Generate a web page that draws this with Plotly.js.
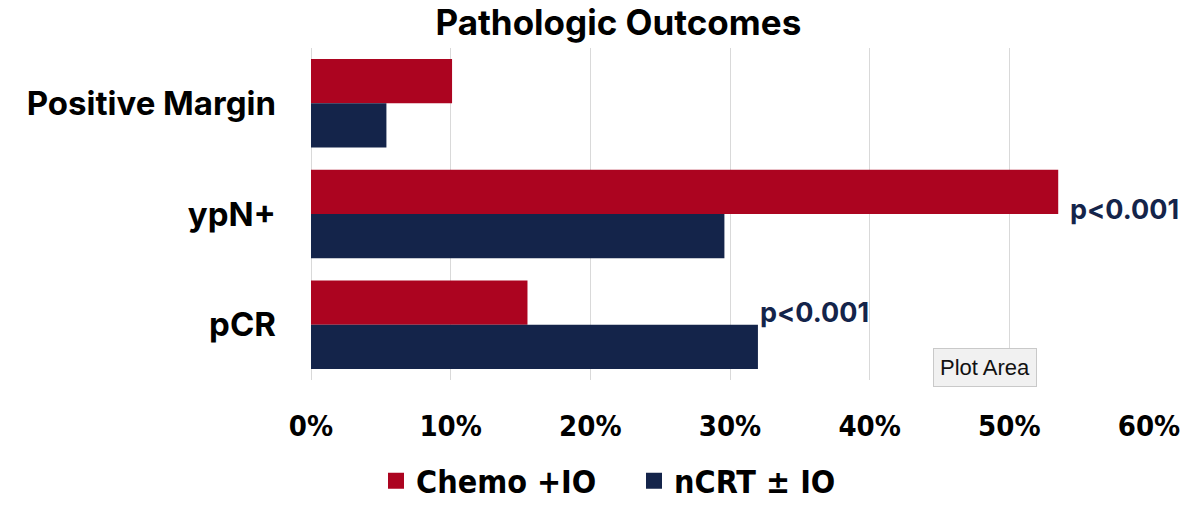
<!DOCTYPE html>
<html>
<head>
<meta charset="utf-8">
<script src="https://cdn.plot.ly/plotly-3.0.1.min.js"></script>
<style>html,body{margin:0;padding:0;background:#fff;}#chart{width:1196px;height:508px;}</style>
</head>
<body>
<div id="chart"></div>
<script>
const categories = ["Positive Margin", "ypN+", "pCR"];
const chemoIO = [10.1, 53.5, 15.5];
const ncrtIO = [5.4, 29.6, 32.0];
const seriesNames = ["Chemo +IO", "nCRT \u00b1 IO"];
const xTickVals = [0, 10, 20, 30, 40, 50, 60];
const xTickText = ["0%", "10%", "20%", "30%", "40%", "50%", "60%"];
const pLabels = [{cat: "ypN+", x: 53.5, text: "p<0.001"}, {cat: "pCR", x: 32.0, text: "p<0.001"}];

const RED = "#AC0420", NAVY = "#14244A";
const condensed = "Liberation Sans Narrow, DejaVu Sans Condensed, Roboto Condensed, Arial Narrow, sans-serif";
const bold = "Inter, Roboto, Lato, Liberation Sans, sans-serif";

const data = [
  {type: "bar", orientation: "h", y: categories, x: chemoIO, name: seriesNames[0],
   marker: {color: RED}, showlegend: false, hoverinfo: "skip"},
  {type: "bar", orientation: "h", y: categories, x: ncrtIO, name: seriesNames[1],
   marker: {color: NAVY}, showlegend: false, hoverinfo: "skip"},
  {type: "scatter", mode: "markers", x: [null], y: [null], name: seriesNames[0],
   marker: {symbol: "square", size: 20, color: RED}},
  {type: "scatter", mode: "markers", x: [null], y: [null], name: seriesNames[1],
   marker: {symbol: "square", size: 20, color: NAVY}}
];

const annotations = pLabels.map((p, i) => ({
  x: p.x, y: p.cat, xref: "x", yref: "y", text: "<b>" + p.text + "</b>",
  showarrow: false, xanchor: "left", yanchor: "middle",
  xshift: i === 0 ? 10 : 0, yshift: i === 0 ? 5 : 12,
  font: {family: bold, size: 27, color: NAVY}
}));
annotations.push({
  x: (985 - 311) / 838, y: (380 - 367) / 332, xref: "paper", yref: "paper",
  xanchor: "center", yanchor: "middle", text: "Plot Area", showarrow: false,
  font: {family: "Liberation Sans, Arial, sans-serif", size: 22, color: "#111"},
  bgcolor: "#f1f1f1", bordercolor: "#c9c9c9", borderwidth: 1, borderpad: 6
});

const layout = {
  width: 1196, height: 508,
  margin: {l: 311, r: 47, t: 48, b: 128, autoexpand: false},
  paper_bgcolor: "#fff", plot_bgcolor: "#fff",
  title: {text: "<b>Pathologic Outcomes</b>", xref: "container", x: 0.517, xanchor: "center",
          yref: "container", y: 1 - 23 / 508, yanchor: "middle", automargin: false,
          font: {family: bold, size: 35, color: "#000"}},
  barmode: "group", bargap: 0.2, bargroupgap: 0,
  xaxis: {range: [0, 60], tickvals: xTickVals, ticktext: xTickText, showgrid: true,
          gridcolor: "#d9d9d9", gridwidth: 1, zeroline: true, zerolinecolor: "#d9d9d9",
          showline: false, ticks: "", ticklabelstandoff: 26, automargin: false,
          tickfont: {family: condensed, size: 29, color: "#000", weight: "bold"}, fixedrange: true},
  yaxis: {autorange: "reversed", showgrid: false, zeroline: false, showline: false, ticks: "",
          ticklabelstandoff: 34, automargin: false,
          tickfont: {family: bold, size: 33, color: "#000", weight: "bold"}, fixedrange: true},
  legend: {orientation: "h", x: (376 - 311) / 838, xanchor: "left", y: (380 - 481) / 332, yanchor: "middle",
           font: {family: condensed, size: 32, color: "#000", weight: "bold"}, itemwidth: 30,
           entrywidth: 213, traceorder: "normal"},
  annotations: annotations,
  showlegend: true
};

Plotly.newPlot("chart", data, layout, {displayModeBar: false, staticPlot: true});
</script>
</body>
</html>
